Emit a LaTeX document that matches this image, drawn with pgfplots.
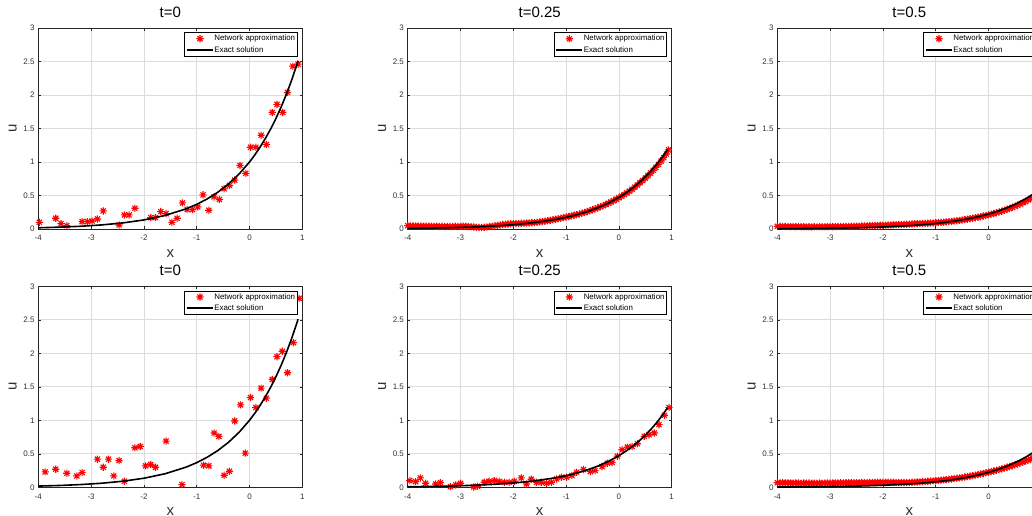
\documentclass[border=0pt]{standalone}
\usepackage{fontspec}
\setmainfont{Liberation Sans}
\usepackage{pgfplots}
\pgfplotsset{compat=1.18}
\definecolor{gridc}{RGB}{220,220,220}
\definecolor{axc}{RGB}{38,38,38}
\definecolor{tlc}{RGB}{50,50,50}
\pgfdeclareplotmark{mstar}{%
 \pgfpathmoveto{\pgfqpoint{-\pgfplotmarksize}{0pt}}\pgfpathlineto{\pgfqpoint{\pgfplotmarksize}{0pt}}%
 \pgfpathmoveto{\pgfqpoint{0pt}{-\pgfplotmarksize}}\pgfpathlineto{\pgfqpoint{0pt}{\pgfplotmarksize}}%
 \pgfpathmoveto{\pgfqpoint{-0.7071\pgfplotmarksize}{-0.7071\pgfplotmarksize}}\pgfpathlineto{\pgfqpoint{0.7071\pgfplotmarksize}{0.7071\pgfplotmarksize}}%
 \pgfpathmoveto{\pgfqpoint{-0.7071\pgfplotmarksize}{0.7071\pgfplotmarksize}}\pgfpathlineto{\pgfqpoint{0.7071\pgfplotmarksize}{-0.7071\pgfplotmarksize}}%
 \pgfusepathqstroke}
\pgfplotsset{
 mstyle/.style={
  width=264pt, height=201pt, scale only axis,
  xmin=-4, xmax=1, ymin=0, ymax=3,
  xtick={-4,-3,-2,-1,0,1}, ytick={0,0.5,1,1.5,2,2.5,3},
  grid=major, major grid style={gridc, line width=0.7pt},
  axis line style={axc, line width=0.7pt},
  tick style={axc, line width=0.5pt},
  tick align=inside, major tick length=2.6pt,
  tick label style={font=\fontsize{8}{9}\selectfont, text=tlc},
  /pgf/number format/assume math mode=true,
  xticklabel style={anchor=base, yshift=-11.9pt, inner sep=0pt},
  yticklabel style={anchor=east, inner sep=0pt, xshift=-3.6pt},
  title style={at={(axis description cs:0.5,1)}, anchor=base, yshift=4.7pt, inner sep=0pt, font=\fontsize{15}{17}\selectfont},
  xlabel={x}, ylabel={u},
  xlabel style={at={(axis description cs:0.5,0)}, anchor=base, yshift=-28.6pt, inner sep=0pt, font=\fontsize{15}{17}\selectfont, text=tlc},
  ylabel style={at={(axis description cs:-0.0818,0.5)}, anchor=base, inner sep=0pt, font=\fontsize{15}{17}\selectfont, text=tlc},
  clip mode=individual,
  legend style={at={(axis description cs:0.982,0.978)}, anchor=north east, draw=black, line width=0.6pt, fill=white,
   font=\fontsize{7.9}{9}\selectfont, inner xsep=1.5pt, inner ysep=1.6pt, row sep=2.4pt,
   cells={anchor=west}, nodes={inner xsep=0.6pt, inner ysep=0.8pt}},
  legend image code/.code={\draw[mark repeat=2,mark phase=2,#1] plot coordinates {(0pt,0pt) (13pt,0pt) (26pt,0pt)};},
 },
 net/.style={only marks, mark=mstar, mark size=3.6pt, color=red, mark options={line width=1.1pt}},
 exact/.style={black, line width=1.6pt, mark=none},
}
\begin{document}
\begin{tikzpicture}[x=1pt,y=1pt]
\useasboundingbox (0,0) rectangle (1032,515);
\clip (0,0) rectangle (1032,515);
% ---------- top left, t=0
\begin{axis}[mstyle, at={(38.3pt,286pt)}, anchor=south west, title={t=0}]
\addplot[net] coordinates {(-3.98,0.10) (-3.67,0.16) (-3.57,0.08) (-3.46,0.05) (-3.17,0.11) (-3.07,0.11) (-2.98,0.12) (-2.88,0.15) (-2.77,0.27) (-2.47,0.06) (-2.37,0.21) (-2.28,0.21) (-2.17,0.31) (-1.87,0.17) (-1.78,0.17) (-1.68,0.26) (-1.58,0.23) (-1.47,0.10) (-1.37,0.16) (-1.27,0.39) (-1.18,0.29) (-1.08,0.29) (-0.98,0.33) (-0.88,0.51) (-0.77,0.28) (-0.67,0.48) (-0.57,0.44) (-0.48,0.60) (-0.38,0.65) (-0.28,0.73) (-0.18,0.95) (-0.07,0.83) (0.02,1.22) (0.12,1.22) (0.22,1.40) (0.32,1.26) (0.43,1.74) (0.52,1.86) (0.63,1.74) (0.72,2.04) (0.82,2.43) (0.92,2.46)};
\addplot[exact] coordinates {(-4.0,0.0183) (-3.6,0.0273) (-3.2,0.0408) (-2.8,0.0608) (-2.4,0.0907) (-2.0,0.1353) (-1.6,0.2019) (-1.2,0.3012) (-1.0,0.3679) (-0.8,0.4493) (-0.6,0.5488) (-0.4,0.6703) (-0.2,0.8187) (0.0,1.0) (0.1,1.1052) (0.2,1.2214) (0.3,1.3499) (0.4,1.4918) (0.5,1.6487) (0.6,1.8221) (0.7,2.0138) (0.8,2.2255) (0.9,2.4596) (0.92,2.5093)};
\legend{Network approximation, Exact solution}
\end{axis}
% ---------- top middle, t=0.25
\begin{axis}[mstyle, at={(407.7pt,286pt)}, anchor=south west, title={t=0.25}]
\addplot[net] coordinates {(-4.00,0.050) (-3.95,0.046) (-3.90,0.044) (-3.85,0.047) (-3.80,0.043) (-3.75,0.045) (-3.70,0.041) (-3.65,0.044) (-3.60,0.040) (-3.55,0.043) (-3.50,0.039) (-3.45,0.041) (-3.40,0.038) (-3.35,0.040) (-3.30,0.037) (-3.25,0.039) (-3.20,0.036) (-3.15,0.038) (-3.10,0.040) (-3.05,0.037) (-3.00,0.039) (-2.95,0.045) (-2.90,0.042) (-2.85,0.038) (-2.80,0.033) (-2.75,0.029) (-2.70,0.026) (-2.65,0.024) (-2.60,0.023) (-2.55,0.025) (-2.50,0.030) (-2.45,0.036) (-2.40,0.042) (-2.35,0.048) (-2.30,0.054) (-2.25,0.060) (-2.20,0.066) (-2.15,0.070) (-2.10,0.074) (-2.05,0.077) (-2.00,0.080) (-1.95,0.082) (-1.90,0.083) (-1.85,0.085) (-1.80,0.087) (-1.75,0.089) (-1.70,0.091) (-1.65,0.094) (-1.60,0.097) (-1.55,0.101) (-1.50,0.106) (-1.45,0.111) (-1.40,0.117) (-1.35,0.123) (-1.30,0.130) (-1.25,0.137) (-1.20,0.145) (-1.15,0.153) (-1.10,0.161) (-1.05,0.170) (-1.00,0.179) (-0.95,0.187) (-0.90,0.196) (-0.85,0.205) (-0.80,0.214) (-0.75,0.224) (-0.70,0.235) (-0.65,0.247) (-0.60,0.260) (-0.55,0.273) (-0.50,0.287) (-0.45,0.301) (-0.40,0.316) (-0.35,0.332) (-0.30,0.349) (-0.25,0.366) (-0.20,0.384) (-0.15,0.403) (-0.10,0.423) (-0.05,0.444) (0.00,0.466) (0.05,0.489) (0.10,0.513) (0.15,0.538) (0.20,0.565) (0.25,0.594) (0.30,0.625) (0.35,0.657) (0.40,0.690) (0.45,0.724) (0.50,0.760) (0.55,0.797) (0.60,0.836) (0.65,0.876) (0.70,0.919) (0.75,0.965) (0.80,1.013) (0.85,1.065) (0.90,1.120) (0.94,1.180)};
\addplot[exact] coordinates {(-4.0,0.00865) (-3.6,0.0129) (-3.2,0.0193) (-2.8,0.0287) (-2.4,0.0428) (-2.0,0.0639) (-1.6,0.0954) (-1.2,0.1423) (-1.0,0.1738) (-0.8,0.2122) (-0.6,0.2592) (-0.4,0.3166) (-0.2,0.3867) (0.0,0.4724) (0.1,0.5221) (0.2,0.5770) (0.3,0.6376) (0.4,0.7047) (0.5,0.7788) (0.6,0.8607) (0.7,0.9512) (0.8,1.0513) (0.9,1.1618) (0.92,1.1853)};
\legend{Network approximation, Exact solution}
\end{axis}
% ---------- top right, t=0.5
\begin{axis}[mstyle, at={(777.3pt,286pt)}, anchor=south west, title={t=0.5}]
\addplot[net] coordinates {(-4.00,0.040) (-3.95,0.037) (-3.90,0.039) (-3.85,0.036) (-3.80,0.038) (-3.75,0.035) (-3.70,0.037) (-3.65,0.034) (-3.60,0.036) (-3.55,0.033) (-3.50,0.035) (-3.45,0.032) (-3.40,0.034) (-3.35,0.031) (-3.30,0.033) (-3.25,0.032) (-3.20,0.034) (-3.15,0.033) (-3.10,0.035) (-3.05,0.034) (-3.00,0.036) (-2.95,0.035) (-2.90,0.037) (-2.85,0.036) (-2.80,0.038) (-2.75,0.037) (-2.70,0.039) (-2.65,0.038) (-2.60,0.040) (-2.55,0.041) (-2.50,0.042) (-2.45,0.043) (-2.40,0.045) (-2.35,0.046) (-2.30,0.048) (-2.25,0.049) (-2.20,0.051) (-2.15,0.052) (-2.10,0.054) (-2.05,0.055) (-2.00,0.057) (-1.95,0.058) (-1.90,0.060) (-1.85,0.061) (-1.80,0.063) (-1.75,0.064) (-1.70,0.066) (-1.65,0.067) (-1.60,0.069) (-1.55,0.071) (-1.50,0.073) (-1.45,0.075) (-1.40,0.077) (-1.35,0.079) (-1.30,0.081) (-1.25,0.083) (-1.20,0.085) (-1.15,0.087) (-1.10,0.089) (-1.05,0.091) (-1.00,0.093) (-0.95,0.096) (-0.90,0.099) (-0.85,0.102) (-0.80,0.106) (-0.75,0.110) (-0.70,0.114) (-0.65,0.119) (-0.60,0.124) (-0.55,0.129) (-0.50,0.135) (-0.45,0.141) (-0.40,0.147) (-0.35,0.154) (-0.30,0.161) (-0.25,0.168) (-0.20,0.176) (-0.15,0.184) (-0.10,0.193) (-0.05,0.202) (0.00,0.211) (0.05,0.221) (0.10,0.231) (0.15,0.242) (0.20,0.254) (0.25,0.266) (0.30,0.279) (0.35,0.293) (0.40,0.307) (0.45,0.322) (0.50,0.338) (0.55,0.355) (0.60,0.373) (0.65,0.392) (0.70,0.412) (0.75,0.433) (0.80,0.455) (0.85,0.478) (0.90,0.503) (0.94,0.529)};
\addplot[exact] coordinates {(-4.0,0.00408) (-3.6,0.0061) (-3.2,0.0091) (-2.8,0.0136) (-2.4,0.0202) (-2.0,0.0302) (-1.6,0.0450) (-1.2,0.0672) (-1.0,0.0821) (-0.8,0.1003) (-0.6,0.1225) (-0.4,0.1496) (-0.2,0.1827) (0.0,0.2231) (0.1,0.2466) (0.2,0.2725) (0.3,0.3012) (0.4,0.3329) (0.5,0.3679) (0.6,0.4066) (0.7,0.4493) (0.8,0.4966) (0.9,0.5488) (0.92,0.5599)};
\legend{Network approximation, Exact solution}
\end{axis}
% ---------- bottom left, t=0
\begin{axis}[mstyle, at={(38.3pt,27.7pt)}, anchor=south west, title={t=0}]
\addplot[net] coordinates {(-3.87,0.23) (-3.67,0.27) (-3.46,0.21) (-3.27,0.17) (-3.17,0.22) (-2.88,0.42) (-2.77,0.30) (-2.67,0.42) (-2.57,0.17) (-2.47,0.40) (-2.37,0.09) (-2.17,0.59) (-2.07,0.61) (-1.97,0.32) (-1.87,0.34) (-1.78,0.30) (-1.58,0.69) (-1.28,0.04) (-0.87,0.33) (-0.77,0.32) (-0.67,0.81) (-0.58,0.76) (-0.48,0.18) (-0.38,0.24) (-0.28,0.99) (-0.17,1.23) (-0.08,0.51) (0.02,1.34) (0.12,1.19) (0.22,1.48) (0.32,1.33) (0.43,1.61) (0.52,1.95) (0.62,2.03) (0.72,1.71) (0.83,2.16) (0.94,2.82)};
\addplot[exact] coordinates {(-4.0,0.0183) (-3.6,0.0273) (-3.2,0.0408) (-2.8,0.0608) (-2.4,0.0907) (-2.0,0.1353) (-1.6,0.2019) (-1.2,0.3012) (-1.0,0.3679) (-0.8,0.4493) (-0.6,0.5488) (-0.4,0.6703) (-0.2,0.8187) (0.0,1.0) (0.1,1.1052) (0.2,1.2214) (0.3,1.3499) (0.4,1.4918) (0.5,1.6487) (0.6,1.8221) (0.7,2.0138) (0.8,2.2255) (0.9,2.4596) (0.92,2.5093)};
\legend{Network approximation, Exact solution}
\end{axis}
% ---------- bottom middle, t=0.25
\begin{axis}[mstyle, at={(407.7pt,27.7pt)}, anchor=south west, title={t=0.25}]
\addplot[net] coordinates {(-3.96,0.10) (-3.85,0.085) (-3.76,0.14) (-3.66,0.06) (-3.47,0.05) (-3.38,0.07) (-3.19,0.01) (-3.09,0.035) (-3.00,0.06) (-2.75,0.005) (-2.68,0.015) (-2.55,0.075) (-2.46,0.09) (-2.36,0.10) (-2.27,0.09) (-2.17,0.075) (-2.08,0.075) (-1.98,0.09) (-1.85,0.14) (-1.75,0.05) (-1.66,0.12) (-1.56,0.075) (-1.47,0.075) (-1.37,0.06) (-1.28,0.075) (-1.18,0.125) (-1.09,0.15) (-0.99,0.15) (-0.89,0.175) (-0.80,0.225) (-0.67,0.265) (-0.54,0.235) (-0.45,0.25) (-0.32,0.31) (-0.22,0.36) (-0.13,0.37) (-0.03,0.465) (0.06,0.56) (0.16,0.60) (0.25,0.61) (0.35,0.65) (0.48,0.76) (0.57,0.785) (0.67,0.81) (0.76,0.935) (0.86,1.075) (0.95,1.19)};
\addplot[exact] coordinates {(-4.0,0.00865) (-3.6,0.0129) (-3.2,0.0193) (-2.8,0.0287) (-2.4,0.0428) (-2.0,0.0639) (-1.6,0.0954) (-1.2,0.1423) (-1.0,0.1738) (-0.8,0.2122) (-0.6,0.2592) (-0.4,0.3166) (-0.2,0.3867) (0.0,0.4724) (0.1,0.5221) (0.2,0.5770) (0.3,0.6376) (0.4,0.7047) (0.5,0.7788) (0.6,0.8607) (0.7,0.9512) (0.8,1.0513) (0.9,1.1618) (0.92,1.1853)};
\legend{Network approximation, Exact solution}
\end{axis}
% ---------- bottom right, t=0.5
\begin{axis}[mstyle, at={(777.3pt,27.7pt)}, anchor=south west, title={t=0.5}]
\addplot[net] coordinates {(-4.00,0.068) (-3.95,0.066) (-3.90,0.069) (-3.85,0.065) (-3.80,0.067) (-3.75,0.064) (-3.70,0.066) (-3.65,0.063) (-3.60,0.065) (-3.55,0.062) (-3.50,0.064) (-3.45,0.061) (-3.40,0.063) (-3.35,0.060) (-3.30,0.062) (-3.25,0.061) (-3.20,0.063) (-3.15,0.062) (-3.10,0.064) (-3.05,0.063) (-3.00,0.065) (-2.95,0.064) (-2.90,0.066) (-2.85,0.065) (-2.80,0.067) (-2.75,0.066) (-2.70,0.068) (-2.65,0.067) (-2.60,0.069) (-2.55,0.068) (-2.50,0.070) (-2.45,0.069) (-2.40,0.071) (-2.35,0.070) (-2.30,0.072) (-2.25,0.071) (-2.20,0.073) (-2.15,0.072) (-2.10,0.074) (-2.05,0.073) (-2.00,0.075) (-1.95,0.074) (-1.90,0.076) (-1.85,0.075) (-1.80,0.074) (-1.75,0.073) (-1.70,0.072) (-1.65,0.071) (-1.60,0.071) (-1.55,0.072) (-1.50,0.073) (-1.45,0.075) (-1.40,0.077) (-1.35,0.079) (-1.30,0.081) (-1.25,0.084) (-1.20,0.087) (-1.15,0.090) (-1.10,0.093) (-1.05,0.096) (-1.00,0.099) (-0.95,0.103) (-0.90,0.107) (-0.85,0.111) (-0.80,0.115) (-0.75,0.120) (-0.70,0.125) (-0.65,0.130) (-0.60,0.135) (-0.55,0.141) (-0.50,0.147) (-0.45,0.153) (-0.40,0.160) (-0.35,0.167) (-0.30,0.174) (-0.25,0.182) (-0.20,0.190) (-0.15,0.198) (-0.10,0.207) (-0.05,0.216) (0.00,0.225) (0.05,0.234) (0.10,0.244) (0.15,0.254) (0.20,0.264) (0.25,0.275) (0.30,0.286) (0.35,0.298) (0.40,0.310) (0.45,0.322) (0.50,0.335) (0.55,0.348) (0.60,0.362) (0.65,0.376) (0.70,0.391) (0.75,0.406) (0.80,0.422) (0.85,0.438) (0.90,0.455) (0.94,0.472)};
\addplot[exact] coordinates {(-4.0,0.00408) (-3.6,0.0061) (-3.2,0.0091) (-2.8,0.0136) (-2.4,0.0202) (-2.0,0.0302) (-1.6,0.0450) (-1.2,0.0672) (-1.0,0.0821) (-0.8,0.1003) (-0.6,0.1225) (-0.4,0.1496) (-0.2,0.1827) (0.0,0.2231) (0.1,0.2466) (0.2,0.2725) (0.3,0.3012) (0.4,0.3329) (0.5,0.3679) (0.6,0.4066) (0.7,0.4493) (0.8,0.4966) (0.9,0.5488) (0.92,0.5599)};
\legend{Network approximation, Exact solution}
\end{axis}
\end{tikzpicture}
\end{document}
